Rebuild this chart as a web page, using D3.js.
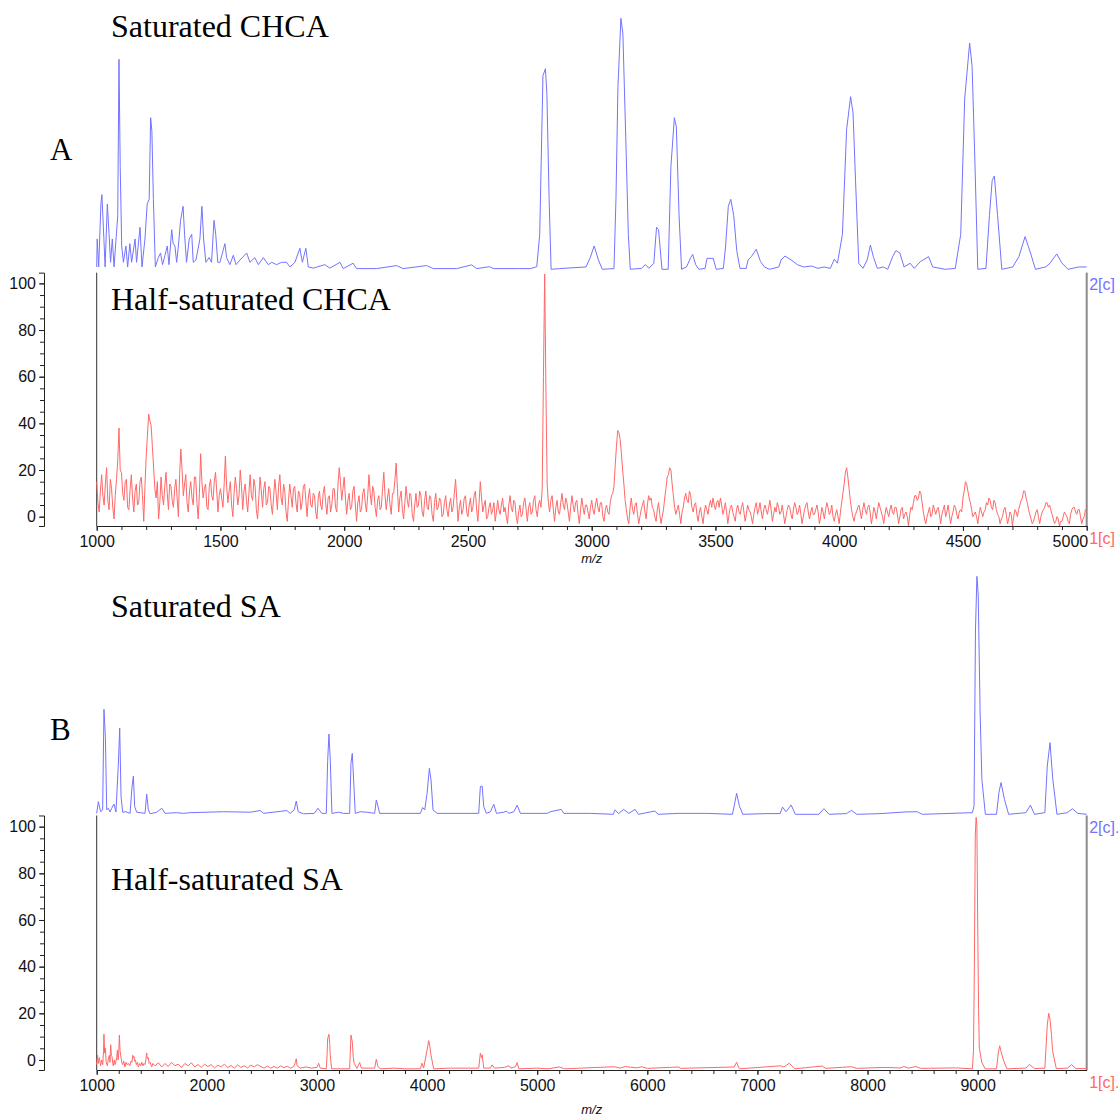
<!DOCTYPE html>
<html>
<head>
<meta charset="utf-8">
<script src="https://cdn.jsdelivr.net/npm/d3@7/dist/d3.min.js"></script>
<style>
  body { margin: 0; background: #fff; }
  svg { display: block; }
</style>
</head>
<body>
<svg id="fig" width="1118" height="1117"></svg>
<script>
// ---------------- data ----------------
// Relative intensity (%) vs m/z.

// Half-saturated CHCA: sampled every 5 m/z from 1000 to 5000 (one row = 100 m/z)
const chcaHalfStart = 1000;
const chcaHalfStep = 5;
const chcaHalf = [
  15, 6, 2, 11, 18, 9, 5, 14, 21, 7, 3, 16, 12, 4, -1, 9, 16, 24, 38, 20,
  19, 10, 7, 15, 16, 4, 3, 12, 18, 8, 2, 11, 14, 5, 6, 15, 17, 9, -2, 13,
  26, 35, 44, 41, 39, 30, 21, 12, 8, 15, -1, 6, 17, 9, 5, 13, 19, 10, 3, 14,
  13, 7, 4, 12, 16, 8, 0, 18, 29, 20, 9, 14, 18, 6, 2, 11, 15, 8, 5, 17,
  17, 6, -1, 10, 27, 15, 8, 12, 14, 4, 3, 13, 16, 9, 7, 15, 19, 11, 2, 9,
  12, 8, 4, 14, 26, 13, 6, 11, 15, 5, 0, 10, 17, 12, 5, 9, 20, 13, 3, 11,
  14, 7, 2, 10, 18, 9, 7, 16, 13, 3, -1, 8, 17, 11, 4, 12, 15, 5, 6, 13,
  12, 5, 1, 9, 16, 10, 3, 13, 18, 8, 5, 14, 11, 2, -2, 7, 14, 9, 4, 12,
  13, 6, 2, 11, 10, 3, 6, 13, 14, 7, 0, 8, 12, 5, 4, 10, 9, 2, -1, 8,
  11, 5, 3, 10, 13, 6, 1, 8, 9, 2, 5, 12, 12, 4, 2, 14, 21, 15, 7, 12,
  17, 8, 1, 7, 10, 3, 4, 11, 13, 5, -2, 6, 9, 2, 3, 10, 12, 6, 2, 9,
  18, 10, 5, 13, 11, 4, 0, 7, 9, 3, 4, 12, 19, 9, 3, 8, 12, 5, 1, 10,
  10, 16, 23, 12, 2, 8, 11, 3, -1, 6, 13, 7, 4, 10, 9, 1, -2, 5, 10, 4,
  5, 11, 9, 2, 0, 7, 11, 4, 3, 9, 8, 1, -2, 6, 10, 3, 4, 8, 7, 0,
  1, 6, 9, 3, 0, 5, 8, 2, 4, 10, 16, 7, -2, 4, 7, 1, 3, 8, 9, 2,
  0, 5, 8, 2, 4, 9, 11, 3, -2, 6, 15, 8, 2, 5, 7, -1, 0, 4, 6, 1,
  3, 6, -2, 2, 7, 3, 1, 5, 8, 2, 4, 0, -3, 5, 9, 4, 2, 7, 6, 0,
  -3, 2, 5, 0, 1, 6, 8, 3, -2, 4, 6, 1, 2, 7, 9, 3, 0, 5, 7, 4,
  12, 60, 104, 55, 14, 6, 2, 7, 9, 3, -2, 4, 7, 2, 1, 6, 10, 5, 3, 8,
  6, 2, -2, 4, 9, 5, 2, 6, 7, 1, -3, 3, 8, 4, 1, 5, 5, 2, -1, 4,
  7, 3, 1, 5, 8, 4, 2, 6, 6, 0, -2, 3, 5, 2, 1, 6, 9, 10, 13, 22,
  30, 37, 36, 33, 27, 20, 14, 7, 3, -1, -3, 4, 8, 3, 1, 5, 6, 1, -3, 0,
  3, 5, 7, 2, -1, 5, 9, 7, 8, 4, 3, 0, -2, 3, 6, 1, -3, 0, 3, 8,
  12, 17, 18, 21, 20, 14, 9, 4, 1, 3, 5, 1, -3, 2, 4, 8, 10, 7, 6, 11,
  9, 4, 2, 5, 6, 1, -2, 2, 4, 0, -3, 2, 5, 3, 1, 5, 7, 4, 8, 5,
  3, 6, 7, 4, 8, 5, 1, 3, 6, 2, -3, 1, 4, 5, 2, 0, -2, 3, 5, 2,
  1, 4, 6, 2, -2, 1, 5, 3, 2, 0, -3, 1, 4, 6, 1, 3, 6, 2, -1, 3,
  5, 3, 1, 4, 7, 3, -2, 1, 4, 2, 6, 4, 1, 2, 5, 1, -3, 0, 3, 5,
  4, 1, -1, 3, 6, 4, 1, 2, 5, 1, -3, 0, 3, 5, 6, 2, -1, 2, 4, 1,
  1, 3, 5, 2, -3, 0, 4, 2, -1, 3, 6, 4, 1, 2, 5, 0, -2, 1, 3, 0,
  -3, 2, 6, 10, 14, 19, 21, 17, 12, 7, 3, 0, -2, 1, 2, 4, 5, 2, -1, 3,
  6, 3, 1, 4, 5, 2, -3, 0, 4, 2, -1, 3, 6, 4, 2, 0, -3, 1, 4, 2,
  0, 3, 5, 2, 1, 4, 4, 1, -3, 0, 3, 4, -1, 1, 2, 0, -4, 1, 4, 3,
  6, 9, 9, 7, 8, 11, 10, 6, 2, -1, -3, 0, 2, 4, 0, 1, 5, 3, 1, 3,
  4, 1, -3, 1, 3, 5, 0, 2, 5, 1, -3, 0, 2, 5, 4, 1, -1, 2, 3, 2,
  8, 11, 15, 14, 11, 8, 6, 3, 0, 1, 2, 0, -3, 1, 4, 2, 0, 2, 3, 6,
  5, 8, 7, 4, 3, 7, 6, 3, 1, 0, -3, -1, 0, 3, 4, 1, -3, -1, 2, 1,
  -4, 0, 3, 2, 0, 3, 5, 7, 8, 11, 11, 8, 6, 3, 1, -1, -3, -2, 0, 2,
  3, 0, -3, 0, 2, 3, 4, 6, 6, 4, 5, 3, 1, -1, -3, -2, 0, -1, -4, -2,
  -2, 0, 2, 1, 0, -2, -3, 1, 3, 4, 4, 2, 1, 3, 3, 0, -3, -1, 0, 3,
  2
];

// Saturated CHCA: [m/z, intensity] vertices
const chcaSat = [
  [1000,1],[1002,13],[1008,1],[1017,28],[1021,32],[1027,18],[1034,1],[1043,28],[1050,15],[1056,3],
  [1063,13],[1070,1],[1085,23],[1090,90],[1095,44],[1101,10],[1108,3],[1118,10],[1125,1],[1134,11],
  [1141,3],[1155,13],[1161,3],[1175,18],[1183,1],[1195,13],[1204,28],[1212,30],[1218,65],[1223,59],
  [1229,30],[1237,1],[1249,5],[1258,7],[1266,2],[1276,6],[1285,10],[1292,2],[1303,17],[1309,11],
  [1316,10],[1323,3],[1330,10],[1339,21],[1349,27],[1355,15],[1363,3],[1374,13],[1384,15],[1390,3],
  [1401,4],[1417,13],[1425,27],[1432,13],[1441,3],[1454,5],[1464,3],[1474,21],[1481,15],[1489,3],
  [1498,3],[1518,11],[1525,5],[1538,2],[1552,6],[1563,2],[1579,4],[1606,7],[1619,3],[1639,5],
  [1653,2],[1673,5],[1693,2],[1707,3],[1727,2],[1747,3],[1767,3],[1781,1],[1801,3],[1821,9],
  [1831,3],[1845,9],[1855,1],[1875,0.5],[1922,2],[1942,0.5],[1983,3],[1996,0.3],[2036,2.6],[2050,0.3],
  [2131,0.3],[2212,1.6],[2238,0.3],[2333,1.6],[2360,0.3],[2454,0.3],[2515,1.9],[2535,0.3],[2587,1.1],[2604,0.3],
  [2704,0.3],[2753,0.3],[2778,1.1],[2790,15],[2803,83],[2813,86],[2819,75],[2828,30],[2836,0],[2869,0.3],
  [2977,1],[2994,5],[3010,10],[3027,4],[3043,0],[3090,0.3],[3098,30],[3106,78],[3118,107.6],[3126,101],
  [3138,55],[3148,15],[3156,0],[3201,0.4],[3217,2],[3231,0.4],[3251,2.6],[3262,18],[3270,17],[3284,0],
  [3309,0],[3320,44],[3334,65],[3342,61],[3353,23],[3363,0],[3383,1],[3400,5],[3408,6.4],[3420,2],
  [3433,0],[3458,0.4],[3466,4.7],[3491,4.7],[3503,0],[3532,0.4],[3541,10],[3552,27],[3562,30],[3574,23],
  [3586,8],[3599,0.4],[3624,0.4],[3632,4],[3645,5.4],[3665,8.6],[3682,3.3],[3698,1],[3718,0],[3756,1],
  [3765,4],[3781,5.7],[3806,4],[3831,2],[3856,1],[3889,1.4],[3914,0.4],[3939,1],[3964,0.4],[3980,4.3],
  [3993,2.6],[4013,15],[4030,60],[4046,74],[4056,67],[4066,38],[4079,2.6],[4096,0.4],[4113,4],[4126,10.4],
  [4138,5.4],[4154,0.4],[4179,1],[4196,0],[4216,5.4],[4229,8],[4245,7],[4262,1],[4287,2.6],[4303,0.4],
  [4328,3.3],[4361,5.4],[4378,1],[4428,0],[4469,0.4],[4491,15],[4507,73],[4527,97],[4537,87],[4547,51],
  [4560,0],[4593,0.4],[4607,23],[4618,38],[4627,40],[4640,23],[4657,0],[4701,1],[4726,5.4],[4751,14],
  [4773,7],[4793,0],[4834,1],[4851,2.5],[4879,6.6],[4900,2.6],[4925,0],[4967,1],[5000,1]
];

// Saturated SA: [m/z, intensity] vertices
const saSat = [
  [1000,0.4],[1015,5.4],[1036,1.1],[1054,1.9],[1066,45],[1079,33],[1091,1.9],[1106,2.6],[1121,1],[1136,2.6],
  [1157,4.4],[1175,1],[1197,22],[1209,37],[1221,7.6],[1236,0.9],[1266,1.1],[1303,0.4],[1321,12],[1333,16.4],
  [1345,3.3],[1363,0.9],[1439,0.4],[1454,8.7],[1469,1.9],[1485,0.2],[1545,0.9],[1591,2.6],[1621,0.4],[1727,0.7],
  [1788,0.4],[1848,0.7],[2151,1.1],[2394,0.9],[2485,1.6],[2515,0.4],[2727,1.6],[2757,0.4],[2794,1.9],[2812,5.7],
  [2830,1.1],[2879,0.2],[2976,0.4],[3009,2.6],[3045,0.4],[3085,0.4],[3097,22.6],[3109,34.4],[3121,23.3],[3136,0.4],
  [3197,0.9],[3242,0.4],[3297,0.4],[3309,21.9],[3321,26.1],[3333,14.7],[3348,0.4],[3394,1.1],[3454,0.9],[3524,0.4],
  [3539,6.1],[3551,4],[3569,0.4],[3939,0.4],[3960,2.9],[3979,1.9],[4000,9],[4021,19.7],[4036,14.7],[4054,1.9],
  [4091,0.4],[4469,0.4],[4484,11.9],[4500,12.1],[4515,3.3],[4539,0.4],[4575,1.1],[4606,4.3],[4630,0.4],[4697,0.9],
  [4721,1.4],[4742,0.4],[4788,1.1],[4818,3.9],[4848,0.4],[5091,0.4],[5121,1.1],[5218,2.1],[5242,0.4],[5484,0.4],
  [5691,0],[5707,1.9],[5738,0.3],[5785,2.1],[5833,0.4],[5889,2.1],[5920,0],[6068,1.4],[6099,0],[6287,0.4],
  [6538,0.4],[6773,0],[6789,3.6],[6811,9],[6836,3.6],[6867,0],[7087,0.3],[7206,0.3],[7228,3.1],[7259,1.1],
  [7306,4],[7344,0],[7557,0],[7604,2.4],[7651,0],[7808,0.3],[7855,1.7],[7902,0],[8121,0.3],[8340,1],
  [8450,1.1],[8497,0],[8952,0.7],[8967,3.6],[8980,79],[8993,102],[9005,94],[9022,44],[9038,15],[9070,0],
  [9171,0],[9193,9.3],[9212,13.6],[9243,6.4],[9281,0],[9438,0.7],[9479,3.9],[9516,0],[9610,0.7],[9632,20.7],
  [9657,30.7],[9682,15],[9720,0],[9814,0.7],[9861,2.4],[9908,0.4],[9990,0]
];

// Half-saturated SA: [m/z, intensity] vertices
const saHalf = [
  [1000,-2],[1008,2],[1015,-1.5],[1025,1],[1035,-2.5],[1045,0],[1055,-2],[1062,4],[1066,11],[1072,3],
  [1079,5],[1086,-1],[1097,-2.5],[1107,1],[1115,2],[1121,-1],[1127,6.5],[1133,2],[1139,1.5],[1146,-1.5],
  [1151,-2.5],[1160,0],[1166,-2],[1175,-0.5],[1182,1],[1188,4.3],[1194,0],[1200,3],[1206,10.7],[1212,4],
  [1221,1],[1228,-1],[1236,-2],[1245,-0.5],[1257,-3],[1266,-1],[1275,-2],[1288,-1.5],[1300,-2.5],[1312,-0.5],
  [1320,-1],[1327,2],[1333,1],[1339,1.5],[1345,-0.5],[1351,0],[1360,-2],[1370,-1],[1378,-3],[1390,-1.5],
  [1400,-2.5],[1410,-1],[1420,-2.5],[1430,-1.5],[1439,-2],[1446,0],[1454,3],[1460,0.5],[1469,1],[1476,-1.5],
  [1485,-1],[1500,-3],[1510,-1.5],[1530,-2.5],[1560,-1.2],[1590,-3],[1620,-1.5],[1650,-2.8],[1680,-1],[1710,-2.5],
  [1740,-1.8],[1770,-3.2],[1800,-1.5],[1830,-2.5],[1860,-1.2],[1890,-3],[1920,-2],[1950,-3.2],[1980,-1.8],[2010,-2.8],
  [2040,-2],[2070,-3.4],[2100,-2.2],[2130,-3],[2160,-1.8],[2190,-3.3],[2220,-2.4],[2250,-3.5],[2280,-2.1],[2310,-3.2],
  [2340,-2.5],[2370,-3.4],[2400,-2.2],[2430,-3],[2460,-2],[2490,-2.8],[2520,-3.5],[2550,-2.6],[2580,-3.5],[2610,-2.8],
  [2640,-3.5],[2670,-2.5],[2700,-3.3],[2730,-2.7],[2760,-3.5],[2790,-2.8],[2805,-1],[2812,0.5],[2820,-2.5],[2850,-3.5],
  [2900,-3],[2950,-3.5],[3000,-3.2],[3015,-1.4],[3030,-3.5],[3085,-3.8],[3092,2],[3097,9],[3109,11],[3116,7],
  [3121,2],[3133,-3.8],[3297,-3.8],[3302,2],[3309,10.7],[3316,9],[3321,7.9],[3330,1],[3339,-1.5],[3363,-3.6],
  [3388,-1.1],[3403,-3.5],[3524,-3.5],[3539,0.3],[3554,-2.9],[3575,-3.8],[3700,-3.5],[3800,-3.8],[3939,-3.8],[3954,-1.4],
  [3969,-3.5],[4000,4.3],[4015,8.3],[4025,6],[4036,2],[4060,-3.8],[4200,-3.5],[4469,-3.5],[4484,2.9],[4495,1],
  [4500,2.2],[4515,-3.5],[4575,-3.5],[4590,-2.1],[4612,-3.5],[4700,-3.2],[4745,-2.5],[4760,-3.5],[4803,-2.9],[4818,-1.1],
  [4833,-3.8],[5000,-3.5],[5100,-3.8],[5200,-3],[5250,-3.8],[5400,-3.5],[5700,-2.9],[5750,-3.5],[5800,-2.8],[5900,-3.4],
  [5950,-2.9],[6000,-3.6],[6287,-3],[6300,-3.6],[6789,-3],[6811,-1],[6836,-3.8],[7212,-2.5],[7240,-3],[7290,-1.4],
  [7337,-3.8],[7588,-2.6],[7620,-3.6],[7855,-2.9],[7900,-3.6],[8150,-3.2],[8300,-3.4],[8330,-2.8],[8370,-3.5],[8440,-2.8],
  [8480,-3.6],[8800,-3.4],[8952,-3.8],[8962,4],[8970,40],[8978,96],[8986,104],[8993,100],[9000,60],[9008,22],
  [9015,5],[9037,-1],[9068,-3.8],[9171,-3.8],[9187,3],[9200,6.1],[9210,4],[9234,0],[9265,-3.8],[9438,-3.5],
  [9469,-1.9],[9516,-3.7],[9610,-3.5],[9620,5],[9632,15],[9645,20],[9655,18],[9670,11],[9680,4],[9714,-3.7],
  [9814,-3.5],[9852,-2],[9892,-3.7],[9990,-3.7]
];

// Axis ticks
const yMajorTicks = [0, 20, 40, 60, 80, 100];
const yMinorTicks = d3.range(0, 101, 5);
const xTicksA = [1000, 1500, 2000, 2500, 3000, 3500, 4000, 4500, 5000];
const xTicksB = [1000, 2000, 3000, 4000, 5000, 6000, 7000, 8000, 9000];

// Panel titles and letters
const titles = [
  { text: "Saturated CHCA", x: 111, y: 37 },
  { text: "Half-saturated CHCA", x: 111, y: 310 },
  { text: "Saturated SA", x: 111, y: 617 },
  { text: "Half-saturated SA", x: 111, y: 890 }
];
const panelLetters = [
  { text: "A", x: 50, y: 160 },
  { text: "B", x: 50, y: 740 }
];

// ---------------- drawing ----------------
const BLUE = "#7373ff";
const RED = "#ff6868";
const svg = d3.select("#fig");
const PX_PER_UNIT = 2.333;
const plotLeft = 96.7, plotRight = 1086.7, yAxisX = 44;

function drawPanel(cfg) {
  const g = svg.append("g");
  const x = d3.scaleLinear().domain(cfg.xDomain).range([plotLeft, plotRight]);
  const y = d3.scaleLinear().domain(cfg.yDomain)
    .range([cfg.axisY, cfg.axisY - (cfg.yDomain[1] - cfg.yDomain[0]) * PX_PER_UNIT]);
  const yTopPx = y(cfg.yDomain[1]);
  // stacked overlay trace: same intensity units, shifted up
  const yOver = d3.scaleLinear().domain([0, 100]).range([cfg.overBase, cfg.overBase - 100 * PX_PER_UNIT]);

  // frame: left line, right grey edge
  g.append("line").attr("x1", plotLeft).attr("x2", plotLeft)
    .attr("y1", yTopPx).attr("y2", cfg.axisY).attr("stroke", "#333").attr("stroke-width", 1);
  g.append("line").attr("x1", plotRight).attr("x2", plotRight)
    .attr("y1", yTopPx).attr("y2", cfg.axisY).attr("stroke", "#8a8a8a").attr("stroke-width", 2);

  // traces
  const lineMain = d3.line().x(d => x(d[0])).y(d => y(d[1]));
  const lineOver = d3.line().x(d => x(d[0])).y(d => yOver(d[1]));
  g.append("path").datum(cfg.lower).attr("d", lineMain)
    .attr("fill", "none").attr("stroke", RED).attr("stroke-width", 1).attr("stroke-linejoin", "round");
  g.append("path").datum(cfg.upper).attr("d", lineOver)
    .attr("fill", "none").attr("stroke", BLUE).attr("stroke-width", 1).attr("stroke-linejoin", "round");

  // y axis
  const yAxG = g.append("g").attr("transform", `translate(${yAxisX},0)`);
  yAxG.call(d3.axisLeft(y).tickValues(yMinorTicks).tickSize(4).tickSizeOuter(5).tickFormat(""));
  const yMaj = g.append("g").attr("transform", `translate(${yAxisX},0)`)
    .call(d3.axisLeft(y).tickValues(yMajorTicks).tickSize(5).tickPadding(3));
  yMaj.select(".domain").remove();

  // x axis
  const xAxG = g.append("g").attr("transform", `translate(0,${cfg.axisY})`);
  xAxG.call(d3.axisBottom(x).tickValues(cfg.xMinor).tickSize(4).tickSizeOuter(0).tickFormat(""));
  const xMaj = g.append("g").attr("transform", `translate(0,${cfg.axisY})`)
    .call(d3.axisBottom(x).tickValues(cfg.xMajor).tickSize(5).tickPadding(5).tickFormat(d3.format("d")));
  xMaj.select(".domain").remove();
  if (cfg.lastLabelEnd) {
    xMaj.selectAll(".tick").filter(d => d === cfg.xDomain[1]).select("text")
      .attr("text-anchor", "end").attr("x", 1);
  }

  [yAxG, yMaj, xAxG, xMaj].forEach(a => {
    a.selectAll("path, line").attr("stroke", "#222");
    a.selectAll("text").attr("font-family", "'Liberation Sans', Arial, sans-serif")
      .attr("font-size", 16).attr("fill", "#111");
  });

  // m/z axis title
  g.append("text").attr("x", (plotLeft + plotRight) / 2).attr("y", cfg.axisY + cfg.titleDy)
    .attr("text-anchor", "middle").attr("font-family", "'Liberation Sans', Arial, sans-serif")
    .attr("font-style", "italic").attr("font-size", 13).attr("fill", "#111").text("m/z");

  // trace tags at the right edge
  g.append("text").attr("x", plotRight + 2.5).attr("y", yTopPx + 17.5)
    .attr("font-family", "'Liberation Sans', Arial, sans-serif").attr("font-size", 16)
    .attr("fill", BLUE).text(cfg.upperTag);
  g.append("text").attr("x", plotRight + 2.5).attr("y", cfg.axisY + 17.5)
    .attr("font-family", "'Liberation Sans', Arial, sans-serif").attr("font-size", 16)
    .attr("fill", RED).text(cfg.lowerTag);
}

drawPanel({
  xDomain: [1000, 5000],
  yDomain: [-4, 104.6],
  axisY: 526,
  overBase: 269.3,
  lower: chcaHalf.map((v, i) => [chcaHalfStart + i * chcaHalfStep, v]),
  upper: chcaSat,
  xMajor: xTicksA,
  xMinor: d3.range(1000, 5001, 100),
  lastLabelEnd: true,
  titleDy: 37,
  upperTag: "2[c]",
  lowerTag: "1[c]"
});

drawPanel({
  xDomain: [1000, 9990],
  yDomain: [-4.3, 104.8],
  axisY: 1070,
  overBase: 814.3,
  lower: saHalf,
  upper: saSat,
  xMajor: xTicksB,
  xMinor: d3.range(1000, 9990, 200),
  lastLabelEnd: false,
  titleDy: 44,
  upperTag: "2[c].",
  lowerTag: "1[c]."
});

// titles
svg.selectAll("text.title").data(titles).enter().append("text")
  .attr("class", "title").attr("x", d => d.x).attr("y", d => d.y)
  .attr("font-family", "'Liberation Serif', 'Times New Roman', serif")
  .attr("font-size", 32).attr("fill", "#000").text(d => d.text);
svg.selectAll("text.letter").data(panelLetters).enter().append("text")
  .attr("class", "letter").attr("x", d => d.x).attr("y", d => d.y)
  .attr("font-family", "'Liberation Serif', 'Times New Roman', serif")
  .attr("font-size", 31).attr("fill", "#000").text(d => d.text);
</script>
</body>
</html>
